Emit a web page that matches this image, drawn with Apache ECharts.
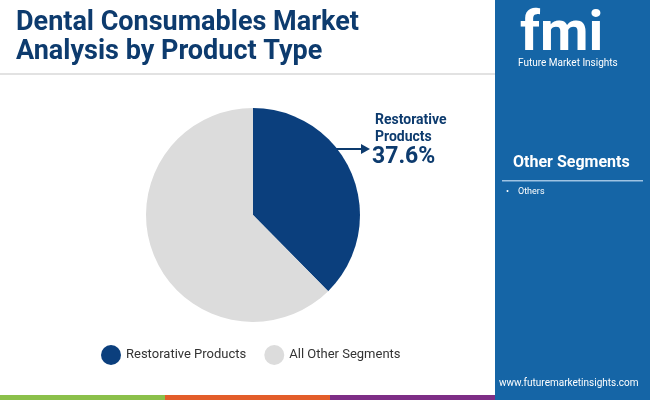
<!DOCTYPE html>
<html><head><meta charset="utf-8">
<script src="https://cdn.jsdelivr.net/npm/echarts@6/dist/echarts.min.js"></script>
<style>html,body{margin:0;padding:0;}#c{width:650px;height:400px;}</style>
</head><body><div id="c"></div>
<script>
const categories = ["Restorative Products", "All Other Segments"];
const values = [37.6, 62.4];
const colors = ["#0b3f7d", "#dcdcdc"];
const sideItems = ["Others"];

const chart = echarts.init(document.getElementById('c'));
const F = 'Roboto, "Open Sans", sans-serif';
chart.setOption({
  animation: false,
  legend: {
    data: categories, bottom: 30, left: 96, itemGap: 18,
    icon: 'circle', itemWidth: 20, itemHeight: 20,
    textStyle: { fontFamily: F, fontSize: 13, color: '#333' }
  },
  graphic: [
    { type: 'rect', shape: { x: 495, y: 0, width: 155, height: 400 }, style: { fill: '#1565a6' } },
    { type: 'rect', shape: { x: 0, y: 73, width: 495, height: 2 }, style: { fill: '#e2e2e2' } },
    { type: 'rect', shape: { x: 0, y: 395, width: 165, height: 5 }, style: { fill: '#8bc04a' } },
    { type: 'rect', shape: { x: 165, y: 395, width: 165, height: 5 }, style: { fill: '#e35d2a' } },
    { type: 'rect', shape: { x: 330, y: 395, width: 165, height: 5 }, style: { fill: '#7e2e86' } },
    { type: 'text', left: 16, top: 9, style: { text: 'Dental Consumables Market\nAnalysis by Product Type', font: 'bold 27px ' + F, fill: '#0d3b6e', lineHeight: 29 } },
    { type: 'text', left: 520, top: 8, style: { text: 'fmi', font: 'bold 56px ' + F, fill: '#fff' } },
    { type: 'text', left: 518, top: 58, style: { text: 'Future Market Insights', font: '10px ' + F, fill: '#fff' } },
    { type: 'text', left: 513, top: 155, style: { text: 'Other Segments', font: 'bold 16px ' + F, fill: '#fff' } },
    { type: 'rect', shape: { x: 502, y: 180, width: 141, height: 1.5 }, style: { fill: '#9ec3e3' } },
    { type: 'text', left: 506, top: 187, style: { text: '•    ' + sideItems[0], font: '9px ' + F, fill: '#fff' } },
    { type: 'text', left: 499, top: 378, style: { text: 'www.futuremarketinsights.com', font: '10px ' + F, fill: '#fff' } },
    { type: 'text', left: 375, top: 112, style: { text: 'Restorative\nProducts', font: 'bold 14px ' + F, fill: '#0d3b6e', lineHeight: 17 } },
    { type: 'text', left: 372, top: 146, style: { text: values[0] + '%', font: 'bold 23px ' + F, fill: '#0d3b6e' } },
    { type: 'line', shape: { x1: 334, y1: 149, x2: 362, y2: 149 }, style: { stroke: '#0d3b6e', lineWidth: 2 } },
    { type: 'polygon', shape: { points: [[370, 149], [361, 144], [361, 154]] }, style: { fill: '#0d3b6e' } }
  ],
  series: [{
    type: 'pie', center: [253, 215], radius: 107, startAngle: 90, clockwise: true,
    label: { show: false }, labelLine: { show: false },
    itemStyle: { borderColor: '#fff', borderWidth: 0 },
    data: categories.map((n, i) => ({ name: n, value: values[i], itemStyle: { color: colors[i] } }))
  }]
});
</script></body></html>
